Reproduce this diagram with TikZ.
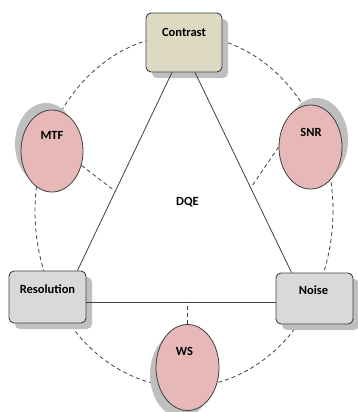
\documentclass[tikz,border=0pt]{standalone}
\usepackage{fontspec}
\setmainfont{Carlito}
\usetikzlibrary{shapes.geometric}
\definecolor{tanfill}{HTML}{DDD9C3}
\definecolor{grayfill}{HTML}{D9D9D9}
\definecolor{pinkfill}{HTML}{E6B9B8}
\definecolor{shadowgray}{HTML}{BFBFBF}
\definecolor{edgegray}{HTML}{404040}
\begin{document}
\begin{tikzpicture}[x=1pt,y=-1pt,
  boxnode/.style={draw=edgegray, line width=0.9pt, rounded corners=5pt, inner sep=0pt},
  ovalnode/.style={ellipse, draw=edgegray, line width=0.8pt, inner sep=0pt, fill=pinkfill},
  lbl/.style={font=\bfseries\fontsize{12.5}{15}\selectfont, text=black, inner sep=0pt},
  conn/.style={draw=edgegray, line width=0.8pt},
  dconn/.style={draw=edgegray, line width=0.8pt, dash pattern=on 4pt off 3pt}]
\useasboundingbox (0,0) rectangle (357,412);
% dashed ring
\draw[dconn] (184,211) ellipse [x radius=149, y radius=176];
% shadows
\fill[shadowgray, rounded corners=5pt] (152,19) rectangle (228,78);
\fill[shadowgray, rounded corners=5pt] (15,277) rectangle (92,329);
\fill[shadowgray, rounded corners=5pt] (282,279) rectangle (359,330);
\fill[shadowgray] (46,144) ellipse [x radius=31, y radius=41];
\fill[shadowgray] (316.5,140) ellipse [x radius=31.5, y radius=42];
\fill[shadowgray] (181.5,374.5) ellipse [x radius=31.5, y radius=43];
% shapes
\node[boxnode, fill=tanfill, minimum width=76pt, minimum height=59pt] (contrast) at (184,42.5) {};
\node[boxnode, fill=grayfill, minimum width=77pt, minimum height=52pt] (resolution) at (47.5,297) {};
\node[boxnode, fill=grayfill, minimum width=77pt, minimum height=51pt] (noise) at (314.5,298.5) {};
\node[ovalnode, minimum width=62pt, minimum height=82pt] (mtf) at (52,151) {};
\node[ovalnode, minimum width=63pt, minimum height=84pt] (snr) at (310.5,147) {};
\node[ovalnode, minimum width=63pt, minimum height=86pt] (ws) at (187.5,367.5) {};
% labels
\node[lbl] (tcontrast) at (184,32) {Contrast};
\node[lbl] (tresolution) at (47.5,289) {Resolution};
\node[lbl] (tnoise) at (313.5,290.5) {Noise};
\node[lbl] (tmtf) at (52,135) {MTF};
\node[lbl] (tsnr) at (311,132) {SNR};
\node[lbl] (tws) at (184.5,351) {WS};
\node[lbl] (tdqe) at (187.5,202) {DQE};
% triangle
\coordinate (cl) at ([xshift=-12pt]contrast.south);
\coordinate (cr) at ([xshift=11pt]contrast.south);
\coordinate (rtop) at ([xshift=-9pt]resolution.north east);
\coordinate (ntop) at ([xshift=16pt]noise.north west);
\coordinate (rright) at ([yshift=-5pt]resolution.east);
\coordinate (nleft) at (rright -| noise.west);
\draw[conn] (cl) -- (rtop);
\draw[conn] (cr) -- (ntop);
\draw[conn] (rright) -- (nleft);
\path (cl) -- (rtop) coordinate[pos=0.6] (mtfend);
\path (cr) -- (ntop) coordinate[pos=0.577] (snrend);
\coordinate (wsend) at (ws.north |- rright);
\draw[dconn] (mtf.-26) -- (mtfend);
\draw[dconn] (snr.west) -- (snrend);
\draw[dconn] (ws.north) -- (wsend);
\end{tikzpicture}
\end{document}
